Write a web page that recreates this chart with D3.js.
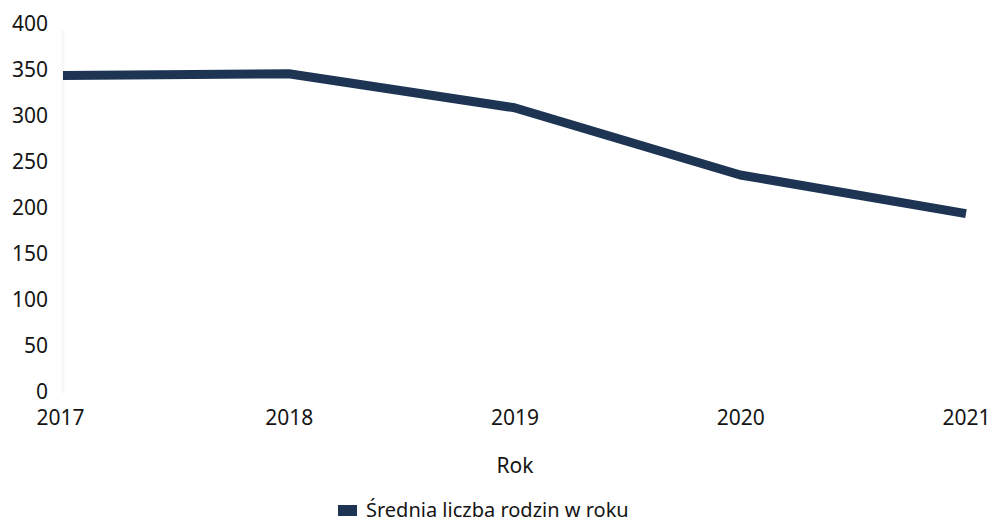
<!DOCTYPE html>
<html><head><meta charset="utf-8">
<script src="https://cdn.jsdelivr.net/npm/d3@7"></script>
<style>body{margin:0;background:#fff}svg{display:block}text{font-family:"Noto Sans","Open Sans",sans-serif;fill:#151515}</style>
</head><body><svg id="c" width="993" height="522"></svg>
<script>
const years = ["2017","2018","2019","2020","2021"];
const values = [345, 347, 310, 237, 195];
const yTicks = [0,50,100,150,200,250,300,350,400];
const seriesName = "Średnia liczba rodzin w roku";
const xTitle = "Rok";

const svg = d3.select("#c");
const x = d3.scalePoint().domain(years).range([63, 966]);
const y = d3.scaleLinear().domain([0,400]).range([393, 25]);

// faint vertical line
svg.append("line").attr("x1",63).attr("x2",63).attr("y1",30).attr("y2",393).attr("stroke","#f7f7f7").attr("stroke-width",3);

// y axis labels
const ya = svg.append("g").attr("transform","translate(51,-1)")
  .call(d3.axisLeft(y).tickValues(yTicks).tickSize(0).tickPadding(3));
ya.select(".domain").remove();
ya.selectAll("text").attr("font-size",21).style("font-family","'Noto Sans','Open Sans',sans-serif").attr("fill","#151515");

// x axis
const xa = svg.append("g").attr("transform","translate(0,410)")
  .call(d3.axisBottom(x).tickSize(0).tickPadding(0));
xa.select(".domain").remove();
xa.selectAll("text").attr("font-size",21).attr("dy","0.71em").style("font-family","'Noto Sans','Open Sans',sans-serif").attr("fill","#151515")
  .attr("dx",(d,i)=> i===0?-3:0);

svg.append("text").attr("x",515).attr("y",473).attr("text-anchor","middle").attr("font-size",21).text(xTitle);

// line
const line = d3.line().x((d,i)=>x(years[i])).y(d=>y(d)).curve(d3.curveLinear);
svg.append("path").datum(values).attr("d",line).attr("fill","none")
  .attr("stroke","#1d3553").attr("stroke-width",9).attr("stroke-linecap","butt").attr("stroke-linejoin","round");

// legend
const lg = svg.append("g");
lg.append("rect").attr("x",338).attr("y",505).attr("width",19).attr("height",11).attr("fill","#1d3553");
lg.append("text").attr("x",366).attr("y",517).attr("font-size",20).text(seriesName);
</script></body></html>
